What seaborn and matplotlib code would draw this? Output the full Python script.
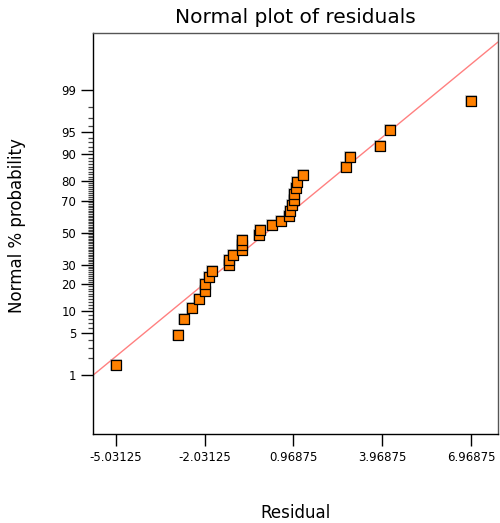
import math
import numpy as np
import pandas as pd
import matplotlib
matplotlib.use('Agg')
import matplotlib.pyplot as plt
import seaborn as sns

# residuals, sorted
residuals = [-5.03, -2.94, -2.74, -2.47, -2.22, -2.03, -2.03, -1.89,
             -1.78, -1.22, -1.22, -1.06, -0.76, -0.76, -0.76, -0.20,
             -0.17, 0.23, 0.54, 0.81, 0.84, 0.93, 0.97, 0.98,
             1.05, 1.10, 1.28, 2.75, 2.88, 3.90, 4.24, 6.97]

# reference line (normal fit) centre and spread
line_mean = 0.05
line_sd = 2.51

x_ticks = [-5.03125, -2.03125, 0.96875, 3.96875, 6.96875]
x_ticklabels = ['-5.03125', '-2.03125', '0.96875', '3.96875', '6.96875']
y_ticks = [1, 5, 10, 20, 30, 50, 70, 80, 90, 95, 99]


# inverse normal cdf (Acklam), no scipy here
A = [-3.969683028665376e+01, 2.209460984245205e+02, -2.759285104469687e+02,
     1.383577518672690e+02, -3.066479806614716e+01, 2.506628277459239e+00]
B = [-5.447609879822406e+01, 1.615858368580409e+02, -1.556989798598866e+02,
     6.680131188771972e+01, -1.328068155288572e+01]
C = [-7.784894002430293e-03, -3.223964580411365e-01, -2.400758277161838e+00,
     -2.549671348747315e+00, 4.374664141464968e+00, 2.938163982698783e+00]
D = [7.784695709041462e-03, 3.224671290700398e-01, 2.445134137142996e+00,
     3.754408661907416e+00]


def ppf(p):
    p = np.clip(np.asarray(p, dtype=float), 1e-12, 1 - 1e-12)
    plow = 0.02425
    q = np.sqrt(-2 * np.log(np.minimum(p, 1 - p)))
    tail = (((((C[0]*q + C[1])*q + C[2])*q + C[3])*q + C[4])*q + C[5]) / \
           ((((D[0]*q + D[1])*q + D[2])*q + D[3])*q + 1)
    tail = np.where(p < 0.5, tail, -tail)
    r0 = p - 0.5
    r = r0 * r0
    mid = (((((A[0]*r + A[1])*r + A[2])*r + A[3])*r + A[4])*r + A[5]) * r0 / \
          (((((B[0]*r + B[1])*r + B[2])*r + B[3])*r + B[4])*r + 1)
    return np.where((p < plow) | (p > 1 - plow), tail, mid)


_erf = np.vectorize(math.erf)


def cdf(z):
    z = np.asarray(z, dtype=float)
    return 0.5 * (1 + _erf(z / math.sqrt(2)))


def fwd(pct):
    return ppf(np.asarray(pct, dtype=float) / 100.0)


def inv(z):
    return cdf(z) * 100.0


n = len(residuals)
df = pd.DataFrame({'Residual': residuals})
df['prob'] = (np.arange(1, n + 1) - 0.5) / n * 100  # plotting positions

sns.set_style('white')
plt.rcParams['font.family'] = ['DejaVu Sans']
plt.rcParams['text.color'] = 'black'
plt.rcParams['axes.labelcolor'] = 'black'
plt.rcParams['xtick.color'] = 'black'
plt.rcParams['ytick.color'] = 'black'

fig = plt.figure(figsize=(5, 5.23), dpi=100)
ax = fig.add_axes([0.186, 0.1702, 0.81, 0.7667])
ax.set_yscale('function', functions=(fwd, inv))

xlim = (-5.797, 7.870)
xs = np.linspace(xlim[0], xlim[1], 200)
ax.plot(xs, inv((xs - line_mean) / line_sd), color='#FF8080', lw=1, zorder=2)

# soft grey halo behind the markers
sns.scatterplot(data=df, x='Residual', y='prob', marker='s', s=70,
                color='#9a9a9a', alpha=0.45, linewidth=0, ax=ax, zorder=3)
sns.scatterplot(data=df, x='Residual', y='prob', marker='s', s=42,
                color='#FF8000', edgecolor='black', linewidth=0.9, ax=ax, zorder=4)

ax.set_xlim(*xlim)
ax.set_ylim(float(inv(-3.289)), float(inv(3.263)))

ax.set_xticks(x_ticks)
ax.set_xticklabels(x_ticklabels)
ax.set_yticks(y_ticks)
ax.set_yticklabels([str(v) for v in y_ticks])
ax.set_yticks(list(range(1, 100)), minor=True)
ax.tick_params(axis='both', which='major', direction='out', length=8.5,
               width=1, color='black', labelcolor='black', labelsize=8.5,
               pad=3.6, left=True, bottom=True)
ax.tick_params(axis='y', which='minor', direction='out', length=3.5,
               width=0.9, color='#444444', left=True)
ax.tick_params(axis='x', which='minor', bottom=False)

for side in ['left', 'bottom']:
    ax.spines[side].set_color('black')
    ax.spines[side].set_linewidth(1)
for side in ['top', 'right']:
    ax.spines[side].set_color('#555555')
    ax.spines[side].set_linewidth(1)

ax.set_title('Normal plot of residuals', fontsize=14.5, pad=7, color='black')
ax.set_xlabel('Residual', fontsize=12)
ax.set_ylabel('Normal % probability', fontsize=12)
ax.xaxis.set_label_coords(0.5, -0.175)
ax.yaxis.set_label_coords(-0.165, 0.519)

fig.savefig('out.png', dpi=100)
